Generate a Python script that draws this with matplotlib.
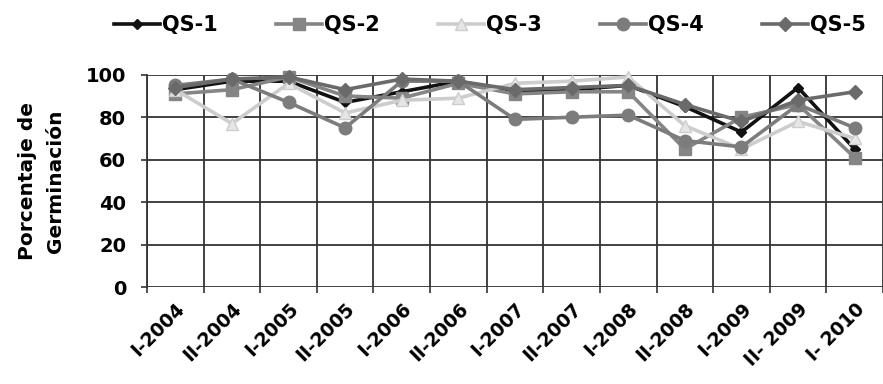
import numpy as np
import matplotlib
matplotlib.use("Agg")
import matplotlib.pyplot as plt

# Datos
periodos = ['I-2004', 'II-2004', 'I-2005', 'II-2005', 'I-2006', 'II-2006', 'I-2007',
            'II-2007', 'I-2008', 'II-2008', 'I-2009', 'II- 2009', 'I- 2010']
qs1 = [93, 97, 97, 87, 92, 97, 92, 93, 95, 85, 73, 94, 65]
qs2 = [91, 93, 99, 90, 89, 96, 91, 92, 92, 65, 80, 86, 61]
qs3 = [93, 77, 96, 82, 88, 89, 96, 97, 99, 76, 65, 78, 70]
qs4 = [95, 98, 87, 75, 97, 97, 79, 80, 81, 69, 66, 86, 75]
qs5 = [94, 98, 99, 93, 98, 97, 93, 94, 95, 86, 78, 88, 92]

series = [
    ('QS-1', qs1, '#111111', 'D', 5, '#111111'),
    ('QS-2', qs2, '#858585', 's', 9, '#858585'),
    ('QS-3', qs3, '#cdcdcd', '^', 9, '#e6e6e6'),
    ('QS-4', qs4, '#7c7c7c', 'o', 9, '#7c7c7c'),
    ('QS-5', qs5, '#6a6a6a', 'D', 7, '#6a6a6a'),
]

plt.rcParams['font.family'] = ['DejaVu Sans']
plt.rcParams['font.weight'] = 'bold'

fig = plt.figure(figsize=(8.83, 3.84), dpi=100)
ax = fig.add_axes([0.1665, 0.2526, 0.8335, 0.5526])

x = np.arange(len(periodos))
for nombre, vals, color, marker, ms, face in series:
    ax.plot(x, vals, color=color, lw=2.6, marker=marker, markersize=ms,
            markerfacecolor=face, markeredgecolor=color, label=nombre,
            clip_on=False, zorder=3)

ax.set_xlim(-0.5, 12.06)
ax.set_ylim(0, 100)
ax.set_yticks(range(0, 101, 20))
ax.set_xticks(np.arange(-0.5, 12.6, 1), minor=False)
ax.set_xticklabels([])
ax.set_xticks(x, minor=True)
ax.set_xticklabels(periodos, minor=True, rotation=45, ha='right',
                   rotation_mode='anchor', fontsize=13.5, fontweight='bold')
ax.tick_params(axis='x', which='minor', length=0, pad=9)
ax.tick_params(axis='x', which='major', length=4, width=1.2, color='#333333')
ax.tick_params(axis='y', length=4, width=1.2, color='#333333', labelsize=14, pad=11)
for lbl in ax.get_yticklabels():
    lbl.set_fontweight('bold')

ax.grid(True, which='major', color='#333333', lw=1.3, zorder=1)
for s in ax.spines.values():
    s.set_visible(False)
ax.spines['left'].set_visible(True)
ax.spines['left'].set_color('#333333')
ax.spines['left'].set_linewidth(1.3)

ax.set_ylabel('Porcentaje de\nGerminación', fontsize=14.5, fontweight='bold',
              linespacing=1.55)
ax.yaxis.set_label_coords(-0.112, 0.5)

fig.legend(loc='upper center', bbox_to_anchor=(0.555, 1.01), ncol=5, frameon=False,
           handlelength=2.2, columnspacing=2.8, handletextpad=0.1,
           prop={'weight': 'bold', 'size': 15})

fig.savefig('out.png', dpi=100)
